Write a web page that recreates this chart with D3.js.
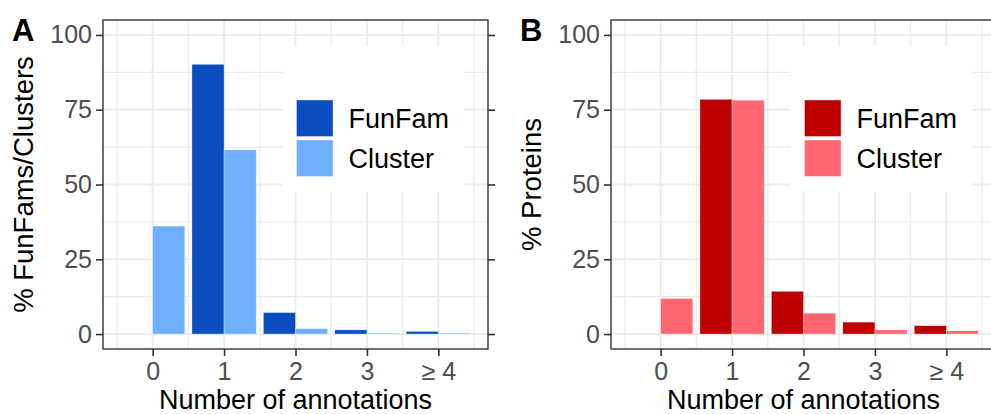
<!DOCTYPE html>
<html>
<head>
<meta charset="utf-8">
<script src="https://cdnjs.cloudflare.com/ajax/libs/d3/7.8.5/d3.min.js"></script>
<style>
  body { margin: 0; background: #ffffff; }
  svg { display: block; font-family: "Liberation Sans", Arial, Helvetica, sans-serif; }
</style>
</head>
<body>
<svg id="chart" width="991" height="414"></svg>
<script>
// values (percent)
var categories = ["0", "1", "2", "3", "\u2265 4"];
var seriesNames = ["FunFam", "Cluster"];
var funfamA = [0, 90.2, 7.2, 1.4, 0.9];
var clusterA = [36.1, 61.6, 1.8, 0.3, 0.3];
var funfamB = [0, 78.5, 14.3, 4.0, 2.8];
var clusterB = [11.9, 78.2, 7.0, 1.4, 1.1];
var yTicks = [0, 25, 50, 75, 100];

var svg = d3.select("#chart");

//draws one ggplot-ish panel
function drawPanel(opts) {
    var left = opts.left, top = 20, width = 385, height = 329;

    var x = d3.scaleLinear().domain([-0.695, 4.695]).range([left, left + width]);
    var y = d3.scaleLinear().domain([-5, 105]).range([top + height, top]);

    var g = svg.append("g");

    // clip so panel B can run off the right edge like the original
    var clipId = "clip" + opts.label;
    svg.append("clipPath").attr("id", clipId)
        .append("rect")
        .attr("x", left).attr("y", top)
        .attr("width", width).attr("height", height);

    var inner = g.append("g").attr("clip-path", "url(#" + clipId + ")");

    // minor grid
    var minorX = d3.range(-0.5, 5, 1);
    var minorY = [12.5, 37.5, 62.5, 87.5];
    inner.selectAll(".minx").data(minorX).enter().append("line")
        .attr("x1", d => x(d)).attr("x2", d => x(d))
        .attr("y1", top).attr("y2", top + height)
        .attr("stroke", "#ebebeb").attr("stroke-width", 1.2);
    inner.selectAll(".miny").data(minorY).enter().append("line")
        .attr("x1", left).attr("x2", left + width)
        .attr("y1", d => y(d)).attr("y2", d => y(d))
        .attr("stroke", "#ebebeb").attr("stroke-width", 1.2);

    // major grid
    inner.selectAll(".majx").data(d3.range(categories.length)).enter().append("line")
        .attr("x1", d => x(d)).attr("x2", d => x(d))
        .attr("y1", top).attr("y2", top + height)
        .attr("stroke", "#ebebeb").attr("stroke-width", 1.8);
    inner.selectAll(".majy").data(yTicks).enter().append("line")
        .attr("x1", left).attr("x2", left + width)
        .attr("y1", d => y(d)).attr("y2", d => y(d))
        .attr("stroke", "#ebebeb").attr("stroke-width", 1.8);

    // bars, dodged: funfam on the left, cluster on the right
    var bw = 0.45;
    var rows = [];
    categories.forEach(function(c, i) {
        rows.push({ x0: i - bw, v: opts.funfam[i], fill: opts.colors[0] });
        rows.push({ x0: i, v: opts.cluster[i], fill: opts.colors[1] });
    });
    inner.selectAll(".bar").data(rows).enter().append("rect")
        .attr("class", "bar")
        .attr("x", d => x(d.x0))
        .attr("width", d => x(d.x0 + bw) - x(d.x0))
        .attr("y", d => y(d.v))
        .attr("height", d => y(0) - y(d.v))
        .attr("fill", d => d.fill)
        .attr("stroke", d => d.v > 0 ? "rgba(255,255,255,0.6)" : "none")
        .attr("stroke-width", 0.6);

    // legend inside the panel, white box hides the grid
    var lx = left + 179.5, ly = 46;
    inner.append("rect")
        .attr("x", lx).attr("y", ly)
        .attr("width", 182).attr("height", 146)
        .attr("fill", "#ffffff");
    seriesNames.forEach(function(name, i) {
        var ky = ly + 54 + i * 40;
        inner.append("rect")
            .attr("x", lx + 14).attr("y", ky)
            .attr("width", 36.5).attr("height", 36.5)
            .attr("fill", opts.colors[i])
            .attr("stroke", "rgba(255,255,255,0.6)").attr("stroke-width", 0.6);
        inner.append("text")
            .attr("x", lx + 66).attr("y", ky + 27.5)
            .attr("font-size", "27px")
            .attr("fill", "#000000")
            .text(name);
    });

    // axes
    var yAxis = g.append("g")
        .attr("transform", "translate(" + left + ",0)")
        .call(d3.axisLeft(y).tickValues(yTicks).tickSize(7).tickPadding(4));
    var yAxisR = g.append("g")
        .attr("transform", "translate(" + (left + width) + ",0)")
        .call(d3.axisRight(y).tickValues(yTicks).tickSize(7).tickFormat(""));
    var xAxis = g.append("g")
        .attr("transform", "translate(0," + (top + height) + ")")
        .call(d3.axisBottom(x).tickValues(d3.range(categories.length))
            .tickFormat(d => categories[d]).tickSize(7).tickPadding(6));

    [yAxis, yAxisR, xAxis].forEach(function(a) {
        a.select(".domain").remove();
        a.selectAll(".tick line").attr("stroke", "#333333").attr("stroke-width", 1.6);
        a.selectAll(".tick text")
            .attr("fill", "#4d4d4d")
            .attr("font-size", "25px")
            .attr("font-family", "Liberation Sans, Arial, sans-serif");
    });

    // panel border
    g.append("rect")
        .attr("x", left).attr("y", top)
        .attr("width", width).attr("height", height)
        .attr("fill", "none")
        .attr("stroke", "#333333").attr("stroke-width", 1.4);

    // titles
    g.append("text")
        .attr("x", left + width / 2).attr("y", 408.5)
        .attr("text-anchor", "middle")
        .attr("font-size", "27px")
        .attr("fill", "#000000")
        .text("Number of annotations");

    g.append("text")
        .attr("transform", "translate(" + opts.ytitleX + "," + (top + height / 2) + ") rotate(-90)")
        .attr("text-anchor", "middle")
        .attr("font-size", "27.5px")
        .attr("fill", "#000000")
        .text(opts.ytitle);

    g.append("text")
        .attr("x", opts.labelX).attr("y", 41)
        .attr("font-size", "31px")
        .attr("font-weight", "bold")
        .attr("fill", "#000000")
        .text(opts.label);
}

drawPanel({
    label: "A", labelX: 12, left: 103, ytitleX: 33,
    ytitle: "% FunFams/Clusters",
    funfam: funfamA, cluster: clusterA,
    colors: ["#0a4ec1", "#6eb0ff"]
});

drawPanel({
    label: "B", labelX: 520, left: 611, ytitleX: 541,
    ytitle: "% Proteins",
    funfam: funfamB, cluster: clusterB,
    colors: ["#bf0000", "#ff6670"]
});
</script>
</body>
</html>
